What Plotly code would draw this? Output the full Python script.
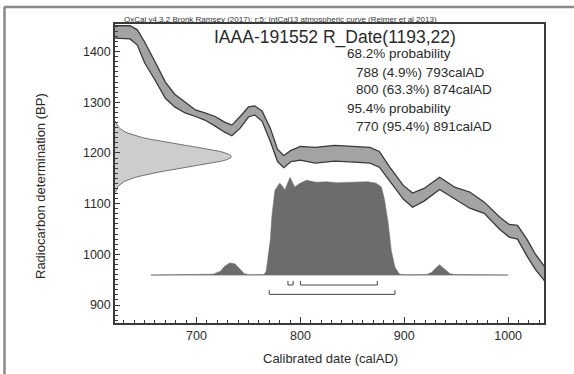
import math
import plotly.graph_objects as go

# IntCal13 calibration band (calendar year AD, upper / lower BP edge)
cal_year = [620, 636, 643, 650, 660, 670, 679, 689, 699, 708, 718, 727, 734, 742, 750,
            756, 763, 771, 778, 784, 791, 800, 814, 833, 852, 867, 876, 886, 899, 908,
            919, 934, 949, 963, 977, 992, 1001, 1009, 1018, 1026, 1036]
cal_upper = [1451, 1451, 1443, 1419, 1380, 1340, 1316, 1301, 1285, 1279, 1272, 1261, 1255, 1272, 1291,
             1293, 1283, 1249, 1207, 1195, 1205, 1213, 1211, 1215, 1213, 1211, 1203, 1172, 1136, 1121,
             1130, 1152, 1132, 1123, 1103, 1073, 1059, 1057, 1030, 1001, 973]
cal_lower = [1427, 1425, 1413, 1378, 1344, 1308, 1291, 1279, 1272, 1265, 1253, 1241, 1234, 1249, 1271,
             1275, 1263, 1223, 1183, 1171, 1183, 1186, 1180, 1184, 1182, 1180, 1172, 1144, 1109, 1093,
             1105, 1128, 1109, 1091, 1081, 1049, 1034, 1030, 997, 971, 945]

# Radiocarbon measurement
LAB_CODE = "IAAA-191552"
R_MEAN = 1193
R_SIGMA = 22

# Calibrated probability distribution (relative density)
post_year = [656, 691, 708, 716, 723, 727, 732, 737, 742, 746, 751, 761, 765, 767, 769, 771,
             772.5, 775.5, 777, 780, 782, 785, 790, 794.5, 799.5, 806, 815.5, 825, 835, 844.5,
             854, 865, 873, 878, 881, 884.5, 887.5, 891, 895.5, 900.5, 921.5, 926.5, 930, 934,
             939, 944, 948.5, 963, 1000]
post_prob = [0, 0.003, 0.005, 0.01, 0.04, 0.09, 0.125, 0.115, 0.06, 0.015, 0.003, 0.002, 0.005,
             0.04, 0.19, 0.36, 0.6, 0.87, 0.89, 0.94, 0.92, 0.87, 1.0, 0.9, 0.94, 0.97, 0.95,
             0.955, 0.945, 0.95, 0.955, 0.955, 0.94, 0.9, 0.77, 0.53, 0.25, 0.08, 0.01, 0.003,
             0.005, 0.03, 0.07, 0.105, 0.06, 0.015, 0.005, 0.002, 0]

# Highest posterior density ranges
range_68 = [(788, 793, "4.9%"), (800, 874, "63.3%")]
range_95 = [(770, 891, "95.4%")]

x_ticks = [700, 800, 900, 1000]
y_ticks = [900, 1000, 1100, 1200, 1300, 1400]

# Layout constants
X_RANGE = [621.5, 1034.5]
Y_RANGE = [864.5, 1454.5]
BASE_BP = 959          # baseline of the calibrated distribution
POST_SCALE = 193       # height of the distribution peak in BP units
GAUSS_SCALE = 112      # width of the measurement curve in years
BR68_Y, BR68_TOP = 939.5, 947.5
BR95_Y, BR95_TOP = 921, 929.5

ML, MR, MT, MB = 115, 30, 24, 51
W, H = 574, 374
PW, PH = W - ML - MR, H - MT - MB

def px_x(p):
    return (p - ML) / PW

def px_y(p):
    return (H - MB - p) / PH

FONT = "Arial, Liberation Sans, sans-serif"
TXT = "#2b2b2b"

fig = go.Figure()

# calibration curve band
fig.add_trace(go.Scatter(x=cal_year, y=cal_upper, mode="lines",
                         line=dict(color="#383838", width=1.3), hoverinfo="skip"))
fig.add_trace(go.Scatter(x=cal_year, y=cal_lower, mode="lines", fill="tonexty",
                         fillcolor="#a3a3a3", line=dict(color="#383838", width=1.3),
                         hoverinfo="skip"))

# measurement likelihood on the BP axis
g_bp = [R_MEAN + R_SIGMA * (i / 10.0) for i in range(-32, 33)]
g_x = [X_RANGE[0] + GAUSS_SCALE * math.exp(-((b - R_MEAN) ** 2) / (2 * R_SIGMA ** 2)) for b in g_bp]
fig.add_trace(go.Scatter(x=[X_RANGE[0]] + g_x + [X_RANGE[0]],
                         y=[g_bp[0]] + g_bp + [g_bp[-1]],
                         mode="lines", fill="toself", fillcolor="#cdcdcd",
                         line=dict(color="#555555", width=0.8), hoverinfo="skip"))

# calibrated distribution
fig.add_trace(go.Scatter(x=[post_year[0], post_year[-1]], y=[BASE_BP, BASE_BP], mode="lines",
                         line=dict(color="#b4b4b4", width=1.5), hoverinfo="skip"))
fig.add_trace(go.Scatter(x=post_year, y=[BASE_BP + p * POST_SCALE for p in post_prob],
                         mode="lines", fill="toself", fillcolor="#6c6c6c",
                         line=dict(color="#6c6c6c", width=0.5), hoverinfo="skip"))

# range brackets
def brackets(ranges, yb, yt):
    xs, ys = [], []
    for a, b, _ in ranges:
        xs += [a, a, b, b, None]
        ys += [yt, yb, yb, yt, None]
    return xs, ys

for rng, yb, yt in [(range_68, BR68_Y, BR68_TOP), (range_95, BR95_Y, BR95_TOP)]:
    bx, by = brackets(rng, yb, yt)
    fig.add_trace(go.Scatter(x=bx, y=by, mode="lines",
                             line=dict(color="#444444", width=1), hoverinfo="skip"))

ann = []
ann.append(dict(text="OxCal v4.3.2 Bronk Ramsey (2017); r:5; IntCal13 atmospheric curve (Reimer et al 2013)",
                x=px_x(280), y=px_y(19.5), xref="paper", yref="paper", showarrow=False,
                xanchor="center", yanchor="middle", font=dict(family=FONT, size=8, color="#333333")))
ann.append(dict(text=f"{LAB_CODE} R_Date({R_MEAN},{R_SIGMA})",
                x=px_x(212), y=px_y(38), xref="paper", yref="paper", showarrow=False,
                xanchor="left", yanchor="middle", font=dict(family=FONT, size=17.5, color=TXT)))

lines = [("68.2% probability", 345, 53.5)]
yy = 72
for a, b, p in range_68:
    lines.append((f"{a} ({p}) {b}calAD", 354, yy))
    yy += 18
lines.append(("95.4% probability", 345, yy))
yy += 18
for a, b, p in range_95:
    lines.append((f"{a} ({p}) {b}calAD", 354, yy))
    yy += 18
for t, xp, yp in lines:
    ann.append(dict(text=t, x=px_x(xp), y=px_y(yp), xref="paper", yref="paper", showarrow=False,
                    xanchor="left", yanchor="middle", font=dict(family=FONT, size=13.5, color=TXT)))

ann.append(dict(text="Radiocarbon determination (BP)", x=px_x(40), y=px_y(186),
                xref="paper", yref="paper", showarrow=False, textangle=-90,
                xanchor="center", yanchor="middle", font=dict(family=FONT, size=13, color=TXT)))
ann.append(dict(text="Calibrated date (calAD)", x=px_x(330), y=px_y(358),
                xref="paper", yref="paper", showarrow=False,
                xanchor="center", yanchor="middle", font=dict(family=FONT, size=13, color=TXT)))

# frame around the whole figure
shapes = [
    dict(type="line", xref="paper", yref="paper", x0=px_x(4), x1=px_x(580), y0=px_y(7), y1=px_y(7),
         line=dict(color="#8a8a8a", width=2.5)),
    dict(type="line", xref="paper", yref="paper", x0=px_x(4.5), x1=px_x(4.5), y0=px_y(7), y1=px_y(380),
         line=dict(color="#8a8a8a", width=2.5)),
]

axis_common = dict(showgrid=False, zeroline=False, showline=True, mirror=True,
                   linecolor="#3a3a3a", linewidth=1.5, ticks="inside", tickcolor="#3a3a3a",
                   tickwidth=1, tickfont=dict(family=FONT, size=12.5, color=TXT))

fig.update_layout(
    width=W, height=H, margin=dict(l=ML, r=MR, t=MT, b=MB),
    paper_bgcolor="white", plot_bgcolor="white", showlegend=False,
    annotations=ann, shapes=shapes,
    xaxis=dict(range=X_RANGE, tickvals=x_ticks, ticklen=6,
               minor=dict(dtick=10, tick0=0, ticklen=3, ticks="inside", tickcolor="#3a3a3a"),
               **axis_common),
    yaxis=dict(range=Y_RANGE, tickvals=y_ticks, ticklen=5,
               minor=dict(dtick=10, tick0=0, ticklen=3, ticks="inside", tickcolor="#3a3a3a"),
               **axis_common),
)

fig.write_html("out.html")
